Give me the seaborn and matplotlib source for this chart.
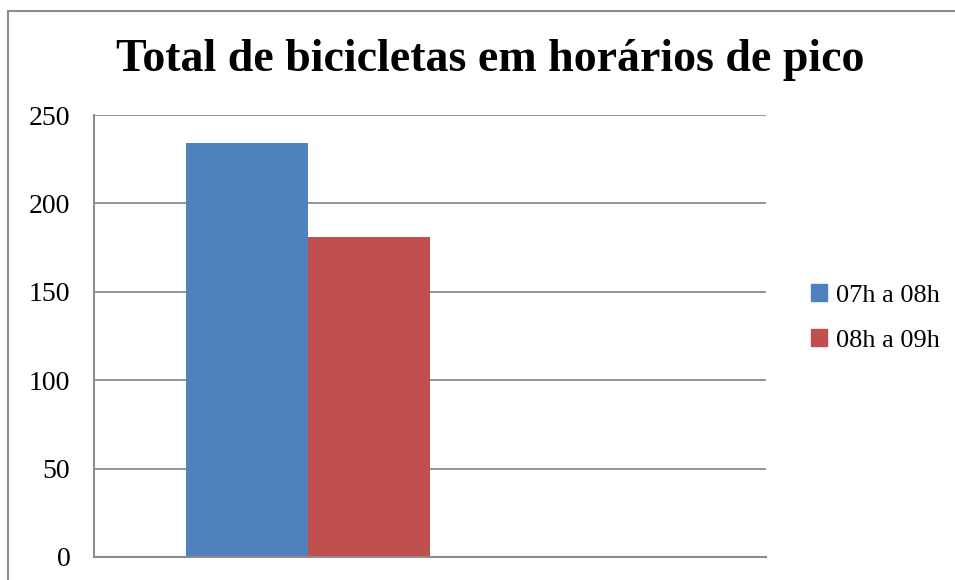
import matplotlib
matplotlib.use("Agg")
import matplotlib.pyplot as plt
import seaborn as sns
from matplotlib.patches import Rectangle

# =========================
# DATA
# =========================

series = ["07h a 08h", "08h a 09h"]
totals = [234, 181]
colors = ["#4F81BD", "#C0504D"]
y_ticks = [0, 50, 100, 150, 200, 250]

title = "Total de bicicletas em horários de pico"

# =========================
# STYLE
# =========================

sns.set_style("white")
plt.rcParams["font.family"] = ["Liberation Serif", "DejaVu Serif"]
plt.rcParams["text.color"] = "black"
plt.rcParams["ytick.color"] = "black"

fig = plt.figure(figsize=(9.55, 5.8), dpi=100)
ax = fig.add_axes([0.0984, 0.0397, 0.7037, 0.762])

# outer chart frame (cut off at right and bottom)
fig.patches.append(Rectangle((8 / 955, -0.05), 1.0, 1 - 11 / 580 + 0.05,
                             transform=fig.transFigure, fill=False,
                             edgecolor="#8c8c8c", linewidth=1.5))

# =========================
# BARS
# =========================

sns.barplot(
    x=series,
    y=totals,
    hue=series,
    palette=colors,
    width=1,
    dodge=False,
    legend=False,
    ax=ax,
    saturation=1,
    linewidth=0,
)

ax.set_xlim(-1.25, 4.25)
ax.set_ylim(0, 250)
ax.set_yticks(y_ticks)
ax.set_xticks([])
ax.set_xlabel("")
ax.set_ylabel("")

ax.grid(axis="y", color="#8c8c8c", linewidth=1.3)
ax.set_axisbelow(True)
for side in ["top", "right"]:
    ax.spines[side].set_visible(False)
for side in ["left", "bottom"]:
    ax.spines[side].set_color("#8c8c8c")
    ax.spines[side].set_linewidth(1.5)

ax.tick_params(axis="y", length=0, pad=17, labelsize=20, labelcolor="black")

# =========================
# LEGEND
# =========================

handles = [Rectangle((0, 0), 1, 1, color=c) for c in colors]
fig.legend(handles, series, loc="center left",
           bbox_to_anchor=(0.824, 0.452), frameon=False,
           fontsize=19, handlelength=0.6, handleheight=0.6,
           handletextpad=0.35, labelspacing=0.85)

# =========================
# TITLE
# =========================

fig.text(0.5135, 1 - 60 / 580, title, ha="center", va="center",
         fontsize=33, fontweight="bold", color="black")

plt.savefig("out.png", dpi=100)
plt.close()
